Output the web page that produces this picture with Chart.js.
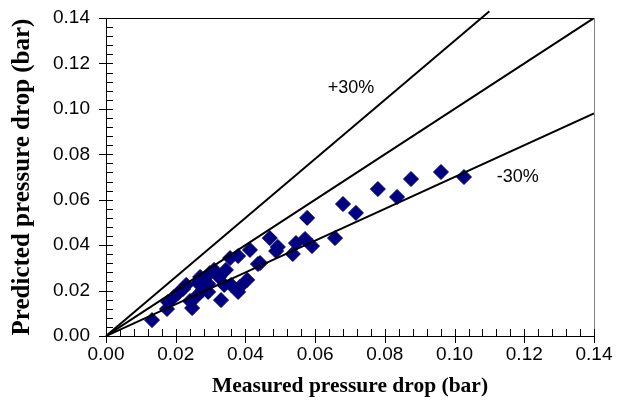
<!DOCTYPE html>
<html>
<head>
<meta charset="utf-8">
<script src="https://cdn.jsdelivr.net/npm/chart.js@4/dist/chart.umd.min.js"></script>
<style>
  html, body { margin: 0; padding: 0; background: #fff; }
  #wrap { width: 629px; height: 409px; }
</style>
</head>
<body>
<div id="wrap"><canvas id="chartCanvas"></canvas></div>
<script>
// measured vs predicted pressure drop (bar)
const measured = [
	0.0132, 0.0175, 0.0178, 0.0195, 0.0207, 0.0221, 0.0230, 0.0247, 0.0241, 0.0258,
	0.0270, 0.0278, 0.0281, 0.0293, 0.0298, 0.0310, 0.0324, 0.0330, 0.0339, 0.0356,
	0.0359, 0.0379, 0.0384, 0.0379, 0.0405, 0.0413, 0.0436, 0.0470, 0.0488, 0.0442,
	0.0493, 0.0545, 0.0571, 0.0591, 0.0536, 0.0577, 0.0657, 0.0680, 0.0717, 0.0780,
	0.0835, 0.0875, 0.0961, 0.1027, 0.0293, 0.0344, 0.0264
]
const predicted = [
	0.0070, 0.0119, 0.0150, 0.0172, 0.0189, 0.0207, 0.0225, 0.0123, 0.0154, 0.0172,
	0.0260, 0.0203, 0.0247, 0.0229, 0.0277, 0.0291, 0.0260, 0.0158, 0.0225, 0.0343,
	0.0225, 0.0352, 0.0216, 0.0194, 0.0247, 0.0379, 0.0317, 0.0431, 0.0374, 0.0321,
	0.0392, 0.0409, 0.0427, 0.0396, 0.0361, 0.0520, 0.0431, 0.0581, 0.0542, 0.0647,
	0.0612, 0.0691, 0.0722, 0.0700, 0.0194, 0.0291, 0.0233
]

// reference lines: y = x, +30 %, -30 %
const equalX = [0, 0.14]
const equalY = [0, 0.14]
const plusX = [0, 0.11]
const plusY = [0, 0.143]
const minusX = [0, 0.14]
const minusY = [0, 0.098]

const lineLabels = ['+30%', '-30%']
const labelX = [0.0703, 0.1181]
const labelY = [0.1092, 0.0700]

const axisMax = 0.14
const majorStep = 0.02
const minorStep = 0.004

const pairs = (xs, ys) => xs.map((x, i) => ({ x, y: ys[i] }))

const lineSet = (xs, ys, clip) => ({
	type: 'line',
	data: pairs(xs, ys),
	borderColor: '#000000',
	borderWidth: 2,
	pointRadius: 0,
	fill: false,
	clip
})

// ticks crossing the axes, frame on top and right, text next to the lines
const decor = {
	id: 'decor',
	beforeDatasetsDraw(chart) {
		const { ctx, chartArea: a, scales: { x, y } } = chart
		ctx.save()
		ctx.lineWidth = 1
		ctx.strokeStyle = '#000'
		ctx.beginPath()
		ctx.moveTo(a.left, a.top + 0.5)
		ctx.lineTo(a.right, a.top + 0.5)
		ctx.stroke()
		ctx.strokeStyle = '#808080'
		ctx.beginPath()
		ctx.moveTo(a.right + 0.5, a.top)
		ctx.lineTo(a.right + 0.5, a.bottom + 7)
		ctx.stroke()

		ctx.strokeStyle = '#000'
		const n = Math.round(axisMax / minorStep)
		const every = Math.round(majorStep / minorStep)
		for (let i = 0; i <= n; i++) {
			const v = i * minorStep
			const major = i % every === 0
			const px = Math.round(x.getPixelForValue(v)) + 0.5
			const py = Math.round(y.getPixelForValue(v)) + 0.5
			ctx.beginPath()
			if (i < n || major) {
				ctx.moveTo(px, a.bottom + (major ? 7 : 0))
				ctx.lineTo(px, a.bottom - 7)
			}
			ctx.moveTo(a.left - (major ? 7 : 0), py)
			ctx.lineTo(a.left + 7, py)
			ctx.stroke()
		}
		ctx.restore()
	},
	afterDatasetsDraw(chart) {
		const { ctx, scales: { x, y } } = chart
		ctx.save()
		ctx.fillStyle = '#000'
		ctx.font = '18px "Liberation Sans", Arial, sans-serif'
		ctx.textAlign = 'center'
		ctx.textBaseline = 'middle'
		lineLabels.forEach((t, i) => {
			ctx.fillText(t, x.getPixelForValue(labelX[i]), y.getPixelForValue(labelY[i]))
		})
		ctx.restore()
	}
}

const tickFont = { family: '"Liberation Sans", Arial, sans-serif', size: 19 }
const serif = '"Liberation Serif", "Times New Roman", serif'

new Chart(document.getElementById('chartCanvas'), {
	type: 'scatter',
	data: {
		datasets: [
			lineSet(equalX, equalY, true),
			lineSet(plusX, plusY, false),
			lineSet(minusX, minusY, true),
			{
				data: pairs(measured, predicted),
				pointStyle: 'rectRot',
				pointRadius: 7.5,
				pointHoverRadius: 7.5,
				backgroundColor: '#000080',
				borderColor: '#00006a',
				borderWidth: 1
			}
		]
	},
	options: {
		responsive: true,
		maintainAspectRatio: false,
		animation: false,
		layout: { padding: { top: 18, right: 35, left: 0, bottom: 0 } },
		plugins: {
			legend: { display: false },
			tooltip: { enabled: false }
		},
		scales: {
			x: {
				type: 'linear',
				min: 0,
				max: axisMax,
				afterFit: s => { s.height = 73 },
				border: { display: true, color: '#000', width: 1 },
				grid: { display: false, drawTicks: false },
				ticks: {
					stepSize: majorStep,
					padding: 7,
					color: '#000',
					font: tickFont,
					maxRotation: 0,
					callback: v => v.toFixed(2)
				},
				title: {
					display: true,
					text: 'Measured pressure drop (bar)',
					color: '#000',
					font: { family: serif, size: 21.5, weight: 'bold' },
					padding: { top: 0, bottom: 10 }
				}
			},
			y: {
				type: 'linear',
				min: 0,
				max: axisMax,
				afterFit: s => {
					s.width = 106
					s.paddingTop = 0
					s.paddingBottom = 0
				},
				border: { display: true, color: '#000', width: 1 },
				grid: { display: false, drawTicks: false },
				ticks: {
					stepSize: majorStep,
					padding: 16,
					color: '#000',
					font: tickFont,
					callback: v => v.toFixed(2)
				},
				title: {
					display: true,
					text: 'Predicted pressure drop (bar)',
					color: '#000',
					font: { family: serif, size: 25, weight: 'bold' },
					padding: { top: 8, bottom: 0 }
				}
			}
		}
	},
	plugins: [decor]
})
</script>
</body>
</html>
